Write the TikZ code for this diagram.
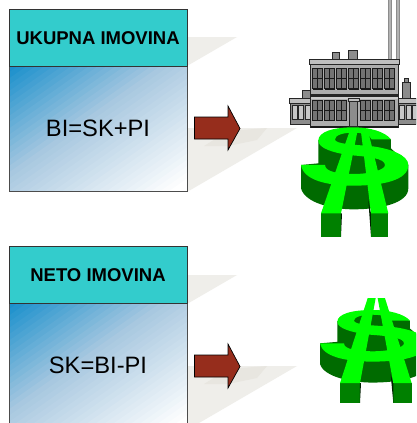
\documentclass[tikz,border=0pt]{standalone}
\usepackage{fontspec}
\setmainfont{Liberation Sans}
\definecolor{teal1}{HTML}{33CCCC}
\definecolor{blue1}{HTML}{1A90CC}
\definecolor{blue2}{HTML}{A8C8E0}
\definecolor{shadow1}{HTML}{EFEEEA}
\definecolor{shadow2}{HTML}{E8E6E0}
\definecolor{arrow1}{HTML}{962D1C}
\definecolor{gbright}{HTML}{00FF00}
\definecolor{gdark}{HTML}{006B00}
\definecolor{gleg}{HTML}{008000}
\tikzset{
  headbox/.style={draw=black!80,fill=teal1,line width=0.8pt,minimum width=178pt,minimum height=56.5pt,inner sep=0pt,font=\fontsize{18.5}{20}\selectfont\bfseries,text=black},
  bodybox/.style={draw=black!70,line width=0.8pt,minimum width=178pt,minimum height=125pt,inner sep=0pt,font=\fontsize{23.7}{26}\selectfont,text=black},
  shade1/.style={fill=shadow1,draw=none},
  shade2/.style={fill=shadow2,draw=none},
  bigarrow/.style={fill=arrow1,draw=black,line width=0.7pt,line join=miter},
  wall/.style={fill=black!45,draw=black!85,line width=0.7pt},
  ledge/.style={fill=black!25,draw=black!85,line width=0.7pt},
  pane/.style={fill=black!55,draw=black!90,line width=0.8pt},
  wingpane/.style={fill=black!22,draw=black!85,line width=0.7pt}
}
% diagonal gradient of a box: top-left blue, bottom-right white
\newcommand{\gradfill}[2]{
  \begin{scope}[shift={(#1,#2)},x=178pt,y=-125pt]
    \clip (0,0) rectangle (1,1);
    \fill[blue1] (0,0) rectangle (1,1);
    \foreach \i in {1,...,40}{
      \pgfmathsetmacro{\u}{\i/40}
      \ifnum\i>17
        \pgfmathsetmacro{\pb}{max(0,100-100*(\i-17)/21)}
        \colorlet{stripe}{blue2!\pb!white}
      \else
        \pgfmathsetmacro{\pc}{100*\i/17}
        \colorlet{stripe}{blue2!\pc!blue1}
      \fi
      \fill[stripe] (2*\u,0) -- (3,0) -- (3,3) -- (0,3) -- (0,2*\u) -- cycle;
    }
  \end{scope}
}
% shadow + arrow, relative to the top of a box
\newcommand{\shadowsarrow}[1]{
  \begin{scope}[shift={(0,#1)}]
    \fill[shade1] (187,28) -- (237,28) -- (187,57) -- cycle;
    \fill[shade1] (187,119) -- (297,119) -- (187,183) -- cycle;
    \fill[shade2] (204,137) -- (228,122) -- (267,119) -- (257,131) -- (228,137) -- cycle;
    \draw[bigarrow] (194.5,108) -- (228,108) -- (228,97) -- (240,119.5) -- (228,141) -- (228,130) -- (194.5,130) -- cycle;
  \end{scope}
}
% dollar: local units are 1/3 px
\newcommand{\dollarmark}[7]{
  % side faces
  \fill[gdark] (85,60) -- (85,130) -- (33,135) -- (33,205) .. controls (45,250) and (130,268) .. (190,268)
     .. controls (270,268) and (355,250) .. (355,205) -- (355,135) -- (303,85) -- (303,58) -- (190,30) -- cycle;
  % S top face
  \fill[gbright] (303,58) .. controls (285,35) and (240,22) .. (190,22)
     .. controls (130,22) and (85,35) .. (85,62)
     .. controls (85,85) and (130,98) .. (175,105)
     .. controls (235,110) and (285,115) .. (285,135)
     .. controls (285,150) and (240,162) .. (190,162)
     .. controls (145,162) and (105,155) .. (105,135)
     -- (33,135)
     .. controls (40,180) and (110,197) .. (190,197)
     .. controls (280,197) and (355,180) .. (355,135)
     .. controls (355,105) and (300,85) .. (240,78)
     .. controls (190,74) and (135,72) .. (135,58)
     .. controls (135,45) and (160,38) .. (190,38)
     .. controls (220,38) and (240,45) .. (245,58) -- cycle;
  % legs: front faces
  \fill[gleg] (93,#6) rectangle (153,#7);
  \fill[gleg] (#4,#6) rectangle (#5,#7);
  \fill[black!70!gdark] (153,#6) -- (156,#6) -- (153,#7) -- cycle;
  \fill[black!70!gdark] (#4,#6) -- (#4-8,240) -- (#4,#7) -- cycle;
  % bars: top faces
  \fill[gbright] (#2,#1) -- (#2+24,#1) -- (153,#6) -- (93,#6) -- cycle;
  \fill[gbright] (#3,#1) -- (#3+22,#1) -- (#5,#6) -- (#4,#6) -- cycle;
}
\begin{document}
\begin{tikzpicture}[x=1pt,y=-1pt]
\useasboundingbox (0,0) rectangle (416,423);
\clip (0,0) rectangle (416,423);
\fill[white] (0,0) rectangle (416,423);

\shadowsarrow{9}
\shadowsarrow{247}

\gradfill{9}{66}
\gradfill{9}{303}
\node[bodybox] (body1) at (98,128.5) {BI=SK+PI};
\node[headbox] (head1) at (98,38) {UKUPNA IMOVINA};
\node[bodybox] (body2) at (98,365.5) {SK=BI-PI};
\node[headbox] (head2) at (98,275) {NETO IMOVINA};

% factory
\begin{scope}
  \fill[black!45] (388,0) rectangle (392,59);
  \fill[black!30] (389,0) rectangle (390.5,59);
  \fill[black!45] (396,0) rectangle (400,59);
  \fill[black!30] (397,0) rectangle (398.5,59);
  \draw[wall] (332,52) rectangle (339,59);
  \draw[wall] (348,50.5) rectangle (357,59);
  \draw[wall] (404,78.5) rectangle (408,82);
  \draw[wall] (402,82) rectangle (410,99);
  \draw[wall] (302,90.5) rectangle (311,99);
  % wings
  \draw[ledge] (289.5,98) rectangle (311,103);
  \draw[ledge] (398,98) rectangle (416.5,103);
  \draw[wall] (290.5,103) rectangle (311,124);
  \draw[wall] (398,103) rectangle (416.5,124);
  \foreach \x in {292,298.5,305}{\draw[wingpane] (\x,105) rectangle ++(5,14);}
  \foreach \x in {399.5,406,412.5}{\draw[wingpane] (\x,105) rectangle ++(5,14);}
  % main block
  \draw[fill=black!32,draw=black!85,line width=1pt] (310.5,64) rectangle (398,127);
  \draw[ledge] (309,59.5) rectangle (399.5,64.5);
  \fill[black!85] (310.5,94) rectangle (398,97);
  \fill[black!20] (310.5,97) rectangle (398,99);
  \draw[black!90,line width=1.2pt] (310.5,127) -- (398,127);
  \foreach \x in {312.7,324.7,336.7,348.7,360.7,372.7,384.7}{
    \draw[pane] (\x,68.5) rectangle ++(10,20);
    \draw[black!90,line width=0.8pt] (\x+5,68.5) -- ++(0,20) (\x,78.5) -- ++(10,0);
    \fill[black!90] (\x,88) rectangle ++(10,1.5);
  }
  \foreach \x in {312.7,324.7,336.7,360,372.7,384.7}{
    \draw[pane] (\x,100) rectangle ++(10,20);
    \draw[black!90,line width=0.8pt] (\x+5,100) -- ++(0,20) (\x,110) -- ++(10,0);
    \fill[black!90] (\x,119.5) rectangle ++(10,1.5);
  }
  \draw[ledge] (348,98) rectangle (359,101);
  \draw[wall] (349.5,101) rectangle (357.5,126);
\end{scope}

% dollars
\begin{scope}[shift={(290,120)},x=0.3333pt,y=-0.3333pt]
  \dollarmark{36}{178}{213}{243}{295}{280}{350}
\end{scope}
\begin{scope}[shift={(309,303.5)},x=0.3333pt,y=-0.295pt]
  \dollarmark{-18}{176}{206}{253}{308}{270}{337}
\end{scope}
\end{tikzpicture}
\end{document}
